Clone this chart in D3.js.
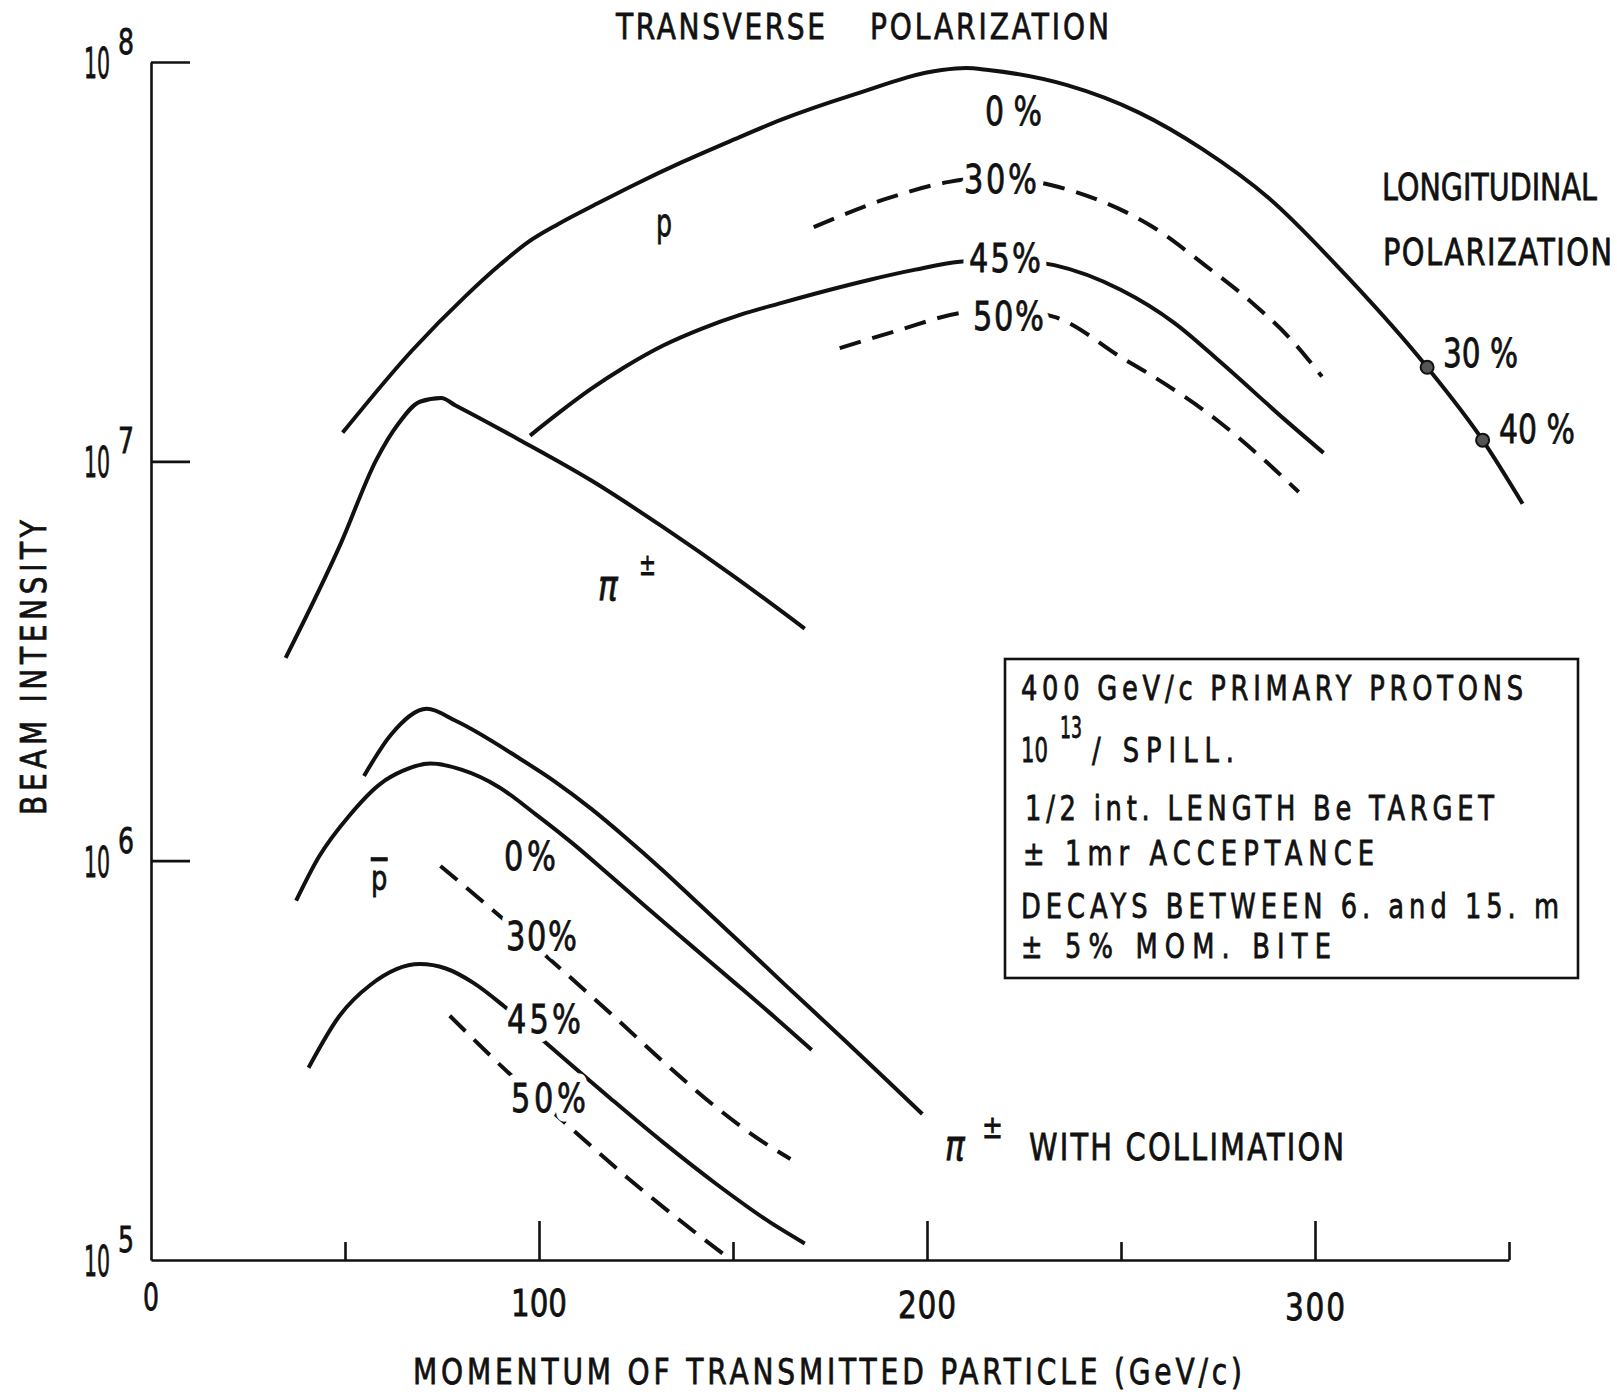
<!DOCTYPE html>
<html><head><meta charset="utf-8">
<script src="https://cdn.jsdelivr.net/npm/d3@7"></script>
<style>
html,body{margin:0;padding:0;background:#fff;}
svg{display:block;background:#fff;}
text{font-family:"DejaVu Sans","Liberation Sans",sans-serif;fill:#111;stroke:#111;stroke-width:0.8;}
text.halo{fill:#fff;stroke:#fff;stroke-width:18;stroke-linejoin:round;}
</style></head><body>
<svg id="chart" width="1617" height="1392"></svg>
<script>
// ---------------- data ----------------
const xMajorTicks = [0, 100, 200, 300];
const xMinorTicks = [50, 150, 250, 350];
const yDecades = [1e5, 1e6, 1e7, 1e8];
const yExponents = ["5", "6", "7", "8"];

// protons, transverse polarization 0 %, 30 %, 45 %, 50 %
const protonT0 = [[49.4,1.18e7],[67.4,1.90e7],[81.2,2.60e7],[90,3.11e7],[97.0,3.53e7],[105,3.93e7],[115,4.42e7],[125,4.95e7],[137,5.62e7],[150,6.38e7],[162.3,7.16e7],[180.7,8.26e7],[203.8,9.55e7],[210,9.66e7],[215.8,9.55e7],[236.1,8.75e7],[254.5,7.48e7],[271.0,6.05e7],[288.0,4.57e7],[308.0,2.92e7],[328.9,1.72e7],[343.2,1.13e7],[353.5,7.83e6]];
const protonT30 = [[170.8,3.86e7],[190,4.56e7],[205.7,5.01e7],[218,5.15e7],[231.9,4.92e7],[245.2,4.47e7],[257.9,3.88e7],[271.6,3.10e7],[283.7,2.50e7],[294,2.01e7],[301.8,1.63e7]];
const protonT45 = [[97.7,1.16e7],[105,1.32e7],[113.5,1.52e7],[122,1.72e7],[132,1.95e7],[142,2.15e7],[152,2.33e7],[162.3,2.49e7],[175,2.69e7],[185.3,2.85e7],[197,3.02e7],[208.4,3.16e7],[220,3.20e7],[232.8,3.10e7],[249.9,2.69e7],[263.8,2.22e7],[276,1.76e7],[292.3,1.27e7],[302.2,1.05e7]];
const protonT50 = [[177.5,1.92e7],[192.7,2.13e7],[208.4,2.35e7],[220,2.40e7],[232.8,2.30e7],[250.9,1.80e7],[257.9,1.64e7],[275.1,1.26e7],[286.3,1.02e7],[295.8,8.38e6]];
// pions
const pion = [[34.7,3.22e6],[48.9,6.22e6],[58.1,1.01e7],[63.7,1.24e7],[69.3,1.41e7],[74.8,1.44e7],[78.5,1.38e7],[95.1,1.13e7],[113.5,8.95e6],[132,6.84e6],[150.5,5.13e6],[168.5,3.81e6]];
const pionCollimated = [[54.9,1.63e6],[61.9,2.07e6],[71.1,2.40e6],[78.5,2.24e6],[95.1,1.80e6],[104,1.58e6],[113.4,1.35e6],[122,1.15e6],[132,9.44e5],[141,7.82e5],[150.4,6.43e5],[163.3,4.90e5],[179.3,3.51e5],[190,2.80e5],[198.8,2.32e5]];
// antiprotons 0 %, 30 %, 45 %, 50 %
const antiP0 = [[37.4,7.94e5],[43.2,1.02e6],[51.2,1.30e6],[59.2,1.56e6],[65,1.68e6],[72.0,1.75e6],[80,1.69e6],[89.6,1.53e6],[99,1.31e6],[108.9,1.10e6],[118,9.23e5],[127.4,7.69e5],[139.4,6.11e5],[150.4,4.95e5],[159.7,4.14e5],[170.3,3.36e5]];
const antiP30 = [[74.6,9.70e5],[87.6,7.59e5],[105.1,5.41e5],[119.1,4.09e5],[132,3.14e5],[145.7,2.41e5],[157.9,1.97e5],[164.8,1.79e5]];
const antiP45 = [[40.6,3.03e5],[48.6,4.09e5],[56.6,4.89e5],[69.3,5.51e5],[76,5.37e5],[83,4.95e5],[91,4.32e5],[101.6,3.51e5],[118.2,2.55e5],[132,1.97e5],[145.7,1.55e5],[159.7,1.24e5],[168.5,1.10e5]];
const antiP50 = [[77,4.09e5],[92.2,2.94e5],[106.6,2.21e5],[122.7,1.61e5],[136.6,1.25e5],[149.5,1.0e5]];
// longitudinal polarization points on the proton curve
const longitudinalPts = [[328.9,1.72e7],[343.2,1.13e7]];
const longitudinalLabels = ["30 %", "40 %"];

const legendLines = ["400 GeV/c PRIMARY PROTONS", "1/2 int. LENGTH Be TARGET", "± 1mr ACCEPTANCE", "DECAYS BETWEEN 6. and 15. m", "± 5% MOM. BITE"];

// ---------------- drawing ----------------
const svg = d3.select("#chart");
const x = d3.scaleLinear().domain([0, 350]).range([151, 1509]);
const y = d3.scaleLog().domain([1e5, 1e8]).range([1260, 62]);
const ink = "#111";

// condensed lettering: glyphs narrowed with a horizontal scale, then spaced to the measured width
function lab(g, str, px, py, size, len, halo, sx = 0.78) {
  const grp = g.append("g").attr("transform", `translate(${px},${py}) scale(${sx},1)`);
  const texts = [];
  if (halo) texts.push(grp.append("text").attr("class", "halo"));
  const t = grp.append("text");
  texts.push(t);
  texts.forEach(e => e.attr("x", 0).attr("y", 0).attr("font-size", size).text(str));
  if (len) {
    const nat = t.node().getComputedTextLength();
    if (nat * sx <= len) {
      if (str.length > 1) texts.forEach(e => e.attr("textLength", len / sx).attr("lengthAdjust", "spacing"));
    } else {
      grp.attr("transform", `translate(${px},${py}) scale(${len / nat},1)`);
    }
  }
  return t;
}

// axes
const gx = svg.append("g").attr("transform", `translate(0,${y(1e5)})`);
gx.call(d3.axisBottom(x).tickValues(xMajorTicks).tickSize(-39).tickSizeOuter(0).tickFormat(""));
gx.append("g").call(d3.axisBottom(x).tickValues(xMinorTicks).tickSize(-18).tickSizeOuter(0).tickFormat(""))
  .select(".domain").remove();
gx.selectAll(".tick").filter(d => d === 0).select("line").remove();
gx.selectAll("path,line").attr("stroke", ink).attr("stroke-width", 2.6);

const gy = svg.append("g").attr("transform", `translate(${x(0)},0)`);
gy.call(d3.axisLeft(y).tickValues(yDecades).tickSize(-39).tickSizeOuter(0).tickFormat(""));
gy.selectAll(".tick").filter(d => d === 1e5).select("line").remove();
gy.selectAll("path,line").attr("stroke", ink).attr("stroke-width", 2.6);

// tick labels
const xLabW = {0: 16, 100: 56, 200: 58, 300: 60};
const xLabY = {0: 1310, 100: 1316, 200: 1318, 300: 1320};
const tl = svg.append("g");
xMajorTicks.forEach(v => lab(tl, String(v), x(v) - xLabW[v] / 2, xLabY[v], 38, xLabW[v]));
yDecades.forEach((v, i) => {
  lab(tl, "10", 84, y(v) + 16, 43, 26);
  lab(tl, yExponents[i], 118, y(v) - 8, 36, 16);
});

// curves
const line = d3.line().x(d => x(d[0])).y(d => y(d[1])).curve(d3.curveMonotoneX);
const curves = [
  {d: protonT0, dash: false}, {d: protonT30, dash: true}, {d: protonT45, dash: false}, {d: protonT50, dash: true},
  {d: pion, dash: false}, {d: pionCollimated, dash: false},
  {d: antiP0, dash: false}, {d: antiP30, dash: true}, {d: antiP45, dash: false}, {d: antiP50, dash: true}
];
svg.append("g").selectAll("path").data(curves).join("path")
  .attr("d", c => line(c.d)).attr("fill", "none").attr("stroke", ink)
  .attr("stroke-width", 4).attr("stroke-dasharray", c => c.dash ? "22 12" : null);

svg.append("g").selectAll("circle").data(longitudinalPts).join("circle")
  .attr("cx", d => x(d[0])).attr("cy", d => y(d[1])).attr("r", 6.5)
  .attr("fill", "#555").attr("stroke", ink).attr("stroke-width", 2);

// texts
const tx = svg.append("g");
lab(tx, "TRANSVERSE", 616, 39, 36, 209);
lab(tx, "POLARIZATION", 870, 39, 36, 239);
lab(tx, "MOMENTUM OF TRANSMITTED PARTICLE (GeV/c)", 413, 1384, 36, 829);
const yl = tx.append("g").attr("transform", "translate(46,815) rotate(-90)");
lab(yl, "BEAM INTENSITY", 0, 0, 36, 295);

// curve labels (white halo breaks the lines as in the drawing)
lab(tx, "0 %", 985, 125, 39, 57, true);
lab(tx, "30%", 964, 193, 39, 73, true);
lab(tx, "45%", 969, 272, 39, 72, true);
lab(tx, "50%", 973, 330, 39, 71, true);
lab(tx, "p", 656, 236, 38, 16);
lab(tx, "π", 598, 600, 42, 29).attr("font-style", "italic");
lab(tx, "±", 639, 575, 30, 17);
lab(tx, "p", 371, 890, 33, 18).attr("text-decoration", "overline");
lab(tx, "0%", 504, 870, 39, 52, true);
lab(tx, "30%", 506, 950, 39, 71, true);
lab(tx, "45%", 507, 1033, 39, 74, true);
lab(tx, "50%", 511, 1112, 39, 75, true);
lab(tx, "π", 945, 1160, 42, 29).attr("font-style", "italic");
lab(tx, "±", 982, 1138, 32, 22);
lab(tx, "WITH COLLIMATION", 1029, 1160, 37, 315);
lab(tx, "LONGITUDINAL", 1382, 200, 37, 215);
lab(tx, "POLARIZATION", 1383, 265, 37, 229);
const longPos = [[1443, 367, 75], [1499, 443, 76]];
longitudinalLabels.forEach((s, i) => lab(tx, s, longPos[i][0], longPos[i][1], 39, longPos[i][2]));

// legend box
const lg = svg.append("g");
lg.append("rect").attr("x", 1005).attr("y", 659).attr("width", 573).attr("height", 319)
  .attr("fill", "none").attr("stroke", ink).attr("stroke-width", 2.6);
lab(lg, legendLines[0], 1021, 700, 33, 502);
lab(lg, "10", 1021, 762, 33, 27);
lab(lg, "13", 1060, 738, 30, 22);
lab(lg, "/ SPILL.", 1092, 762, 33, 142);
lab(lg, legendLines[1], 1025, 820, 33, 469);
lab(lg, legendLines[2], 1023, 865, 33, 351);
lab(lg, legendLines[3], 1021, 918, 33, 538);
lab(lg, legendLines[4], 1021, 958, 33, 310);
</script>
</body></html>
